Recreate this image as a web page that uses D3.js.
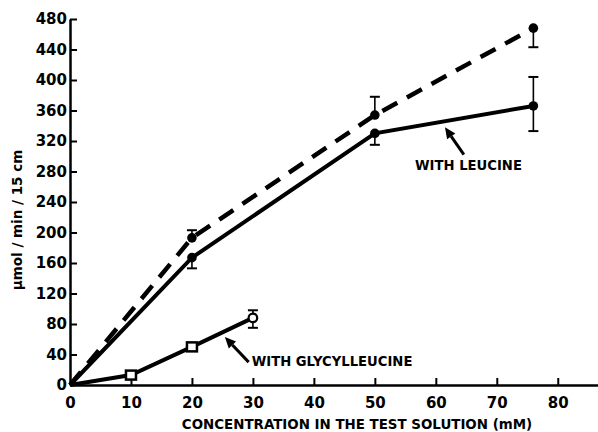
<!DOCTYPE html>
<html>
<head>
<meta charset="utf-8">
<script src="https://cdn.jsdelivr.net/npm/d3@7"></script>
<style>
  body { margin: 0; background: #fff; }
  svg { display: block; }
  text { font-family: "DejaVu Sans", sans-serif; font-weight: bold; fill: #000; }
  .axis path, .axis line { stroke: #000; }
</style>
</head>
<body>
<svg width="598" height="432"></svg>
<script>
// concentration (mM)
var conc = [0, 20, 50, 76],
    concGly = [0, 10, 20, 30];
// uptake, umol/min/15 cm
var dashedVals = [0, 193, 354, 468],
    dashedUp = [0, 10, 24, 0],
    dashedDown = [0, 0, 0, 25];
var leucineVals = [0, 167, 330, 366],
    leucineUp = [0, 0, 0, 38],
    leucineDown = [0, 14, 15, 33];
var glyVals = [0, 13, 50, 88],
    glyUp = [0, 0, 0, 10],
    glyDown = [0, 0, 0, 13];
var xTicks = [0, 10, 20, 30, 40, 50, 60, 70, 80],
    yTicks = [0, 40, 80, 120, 160, 200, 240, 280, 320, 360, 400, 440, 480];

var svg = d3.select("svg");

var x = d3.scaleLinear()
    .domain([0, 86.6])
    .range([70, 598]);
var y = d3.scaleLinear()
    .domain([0, 480])
    .range([385, 19]);

function pts(xs, ys, up, down) {
  return xs.map(function(d, i) { return {x: d, y: ys[i], up: up[i], down: down[i]}; });
}
var dashed = pts(conc, dashedVals, dashedUp, dashedDown),
    leucine = pts(conc, leucineVals, leucineUp, leucineDown),
    gly = pts(concGly, glyVals, glyUp, glyDown);

// axes
var gx = svg.append("g")
    .attr("class", "axis")
    .attr("transform", "translate(0," + y(0) + ")")
    .call(d3.axisBottom(x).tickValues(xTicks).tickSize(-7).tickSizeOuter(0).tickPadding(12));
gx.attr("font-family", null).attr("font-size", null);
gx.select(".domain").attr("stroke-width", 2.5);
gx.selectAll(".tick line").attr("stroke-width", 2);
gx.selectAll(".tick text").attr("font-size", 15).attr("dy", "0.75em");
gx.selectAll(".tick").filter(function(d) { return d === 0; }).select("line").remove();

var gy = svg.append("g")
    .attr("class", "axis")
    .attr("transform", "translate(" + x(0) + ",0)")
    .call(d3.axisLeft(y).tickValues(yTicks).tickSize(-7).tickSizeOuter(0).tickPadding(3));
gy.attr("font-family", null).attr("font-size", null);
gy.select(".domain").attr("stroke-width", 2.5);
gy.selectAll(".tick line").attr("stroke-width", 2);
gy.selectAll(".tick text").attr("font-size", 15);
gy.selectAll(".tick").filter(function(d) { return d === 0; }).select("line").remove();

// axis titles
svg.append("text")
    .attr("x", 357)
    .attr("y", 429)
    .attr("text-anchor", "middle")
    .attr("font-size", 13.4)
    .text("CONCENTRATION IN THE TEST SOLUTION (mM)");
svg.append("text")
    .attr("transform", "translate(22,220) rotate(-90)")
    .attr("text-anchor", "middle")
    .attr("font-size", 13.5)
    .text("\u03bcmol / min / 15 cm");

var line = d3.line()
    .x(function(d) { return x(d.x); })
    .y(function(d) { return y(d.y); });

svg.append("path")
    .datum(dashed)
    .attr("d", line)
    .attr("fill", "none")
    .attr("stroke", "#000")
    .attr("stroke-width", 4.5)
    .attr("stroke-dasharray", "17,11");
svg.append("path")
    .datum(leucine)
    .attr("d", line)
    .attr("fill", "none")
    .attr("stroke", "#000")
    .attr("stroke-width", 4);
svg.append("path")
    .datum(gly)
    .attr("d", line)
    .attr("fill", "none")
    .attr("stroke", "#000")
    .attr("stroke-width", 4);

// error bars
function errorBars(data) {
  var g = svg.append("g");
  data.filter(function(d) { return d.up || d.down; }).forEach(function(d) {
    var cx = x(d.x),
        lo = y(d.y - d.down),
        hi = y(d.y + d.up);
    g.append("line")
        .attr("x1", cx).attr("x2", cx)
        .attr("y1", lo).attr("y2", hi)
        .attr("stroke", "#000").attr("stroke-width", 1.6);
    if (d.up) g.append("line")
        .attr("x1", cx - 5).attr("x2", cx + 5)
        .attr("y1", hi).attr("y2", hi)
        .attr("stroke", "#000").attr("stroke-width", 2);
    if (d.down) g.append("line")
        .attr("x1", cx - 5).attr("x2", cx + 5)
        .attr("y1", lo).attr("y2", lo)
        .attr("stroke", "#000").attr("stroke-width", 2);
  });
}
errorBars(dashed);
errorBars(leucine);
errorBars(gly);

// markers
svg.append("g").selectAll("circle")
    .data(dashed.slice(1).concat(leucine.slice(1)))
  .join("circle")
    .attr("cx", function(d) { return x(d.x); })
    .attr("cy", function(d) { return y(d.y); })
    .attr("r", 4.8)
    .attr("fill", "#000");
svg.append("g").selectAll("rect")
    .data(gly.slice(1, 3))
  .join("rect")
    .attr("x", function(d) { return x(d.x) - 5; })
    .attr("y", function(d) { return y(d.y) - 4.5; })
    .attr("width", 10)
    .attr("height", 9)
    .attr("fill", "#fff")
    .attr("stroke", "#000")
    .attr("stroke-width", 2.5);
svg.append("g").selectAll("circle")
    .data(gly.slice(3))
  .join("circle")
    .attr("cx", function(d) { return x(d.x); })
    .attr("cy", function(d) { return y(d.y); })
    .attr("r", 4.3)
    .attr("fill", "#fff")
    .attr("stroke", "#000")
    .attr("stroke-width", 2.2);

// labels with arrows (positions in data units)
var labels = [
  {text: "WITH LEUCINE", tx: 56.6, ty: 282, from: [64.6, 302], to: [61.5, 338]},
  {text: "WITH GLYCYLLEUCINE", tx: 29.8, ty: 25, from: [29.3, 30], to: [25.4, 63]}
];
labels.forEach(function(d) {
  svg.append("text")
      .attr("x", x(d.tx))
      .attr("y", y(d.ty))
      .attr("font-size", 13.2)
      .text(d.text);
  var x1 = x(d.from[0]), y1 = y(d.from[1]),
      x2 = x(d.to[0]), y2 = y(d.to[1]),
      a = Math.atan2(y2 - y1, x2 - x1),
      len = 11, w = 5;
  var bx = x2 - len * Math.cos(a), by = y2 - len * Math.sin(a);
  svg.append("line")
      .attr("x1", x1).attr("y1", y1)
      .attr("x2", bx).attr("y2", by)
      .attr("stroke", "#000").attr("stroke-width", 3);
  svg.append("path")
      .attr("d", "M" + x2 + "," + y2 +
        "L" + (bx + w * Math.sin(a)) + "," + (by - w * Math.cos(a)) +
        "L" + (bx - w * Math.sin(a)) + "," + (by + w * Math.cos(a)) + "Z")
      .attr("fill", "#000");
});
</script>
</body>
</html>
